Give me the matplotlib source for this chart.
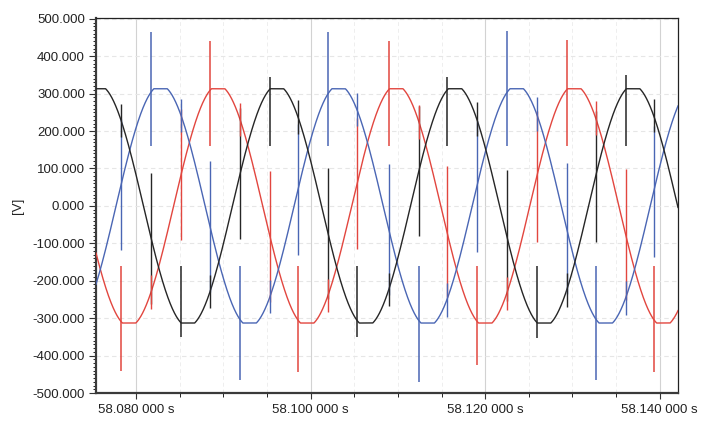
import numpy as np
import matplotlib
matplotlib.use("Agg")
import matplotlib.pyplot as plt
from matplotlib.ticker import MultipleLocator, FuncFormatter

plt.rcParams["font.family"] = "Liberation Sans"

# ── values ───────────────────────────────────────────────────────────────────
phase_names  = ["L1", "L2", "L3"]
phase_colors = ["#e2463f", "#4a66b4", "#262626"]       # red, blue, black
peak_times   = [58.08940, 58.08280, 58.09614]          # time of a positive crest
amplitude    = 322.0                                   # V
flat_level   = 313.0                                   # crests look clipped here
freq_hz      = 49.0

# commutation instants and the phase that shows the large spike
event_times = [58.07828, 58.08172, 58.08515, 58.08847, 58.09191, 58.09534,
               58.09855, 58.10198, 58.10530, 58.10896, 58.11240, 58.11560,
               58.11904, 58.12247, 58.12591, 58.12934, 58.13266, 58.13610,
               58.13930]
event_phase = [0, 1, 2, 0, 1, 2, 0, 1, 2, 0, 1, 2, 0, 1, 2, 0, 1, 2, 0]
event_tip   = [-440, 465, -350, 440, -465, 345, -445, 465, -350, 440,
               -470, 345, -425, 466, -353, 444, -465, 350, -445]
spike_root  = 160.0      # spiking phase drops back to about this level
mid_reach   = 175.0      # neighbouring phase jumps about this much
notch_reach = 45.0       # third phase only shows a small notch

x_range = (58.0754, 58.1421)
y_range = (-500, 502)


def phase_voltage(i, t):
    v = amplitude * np.cos(2 * np.pi * freq_hz * (np.asarray(t) - peak_times[i]))
    return np.clip(v, -flat_level, flat_level)


fig = plt.figure(figsize=(7.07, 4.21), dpi=100)
ax = fig.add_axes([0.1358, 0.0665, 0.8232, 0.8907])

t = np.linspace(x_range[0], x_range[1], 4000)
for i in range(3):
    ax.plot(t, phase_voltage(i, t), color=phase_colors[i], lw=1.0, zorder=3)

# spikes / notches at each commutation
for te, ph, tip in zip(event_times, event_phase, event_tip):
    s = np.sign(tip)
    ax.vlines(te, min(s * spike_root, tip), max(s * spike_root, tip),
              color=phase_colors[ph], lw=1.1, zorder=4)
    mid = (ph + 1) % 3
    vm = phase_voltage(mid, te)
    ax.vlines(te, vm - mid_reach, vm + mid_reach,
              color=phase_colors[mid], lw=1.0, zorder=4)
    other = (ph + 2) % 3
    vo = phase_voltage(other, te)
    ax.vlines(te, vo - notch_reach, vo + notch_reach,
              color=phase_colors[other], lw=1.0, zorder=4)

ax.set_xlim(*x_range)
ax.set_ylim(*y_range)

# ── axes styling ─────────────────────────────────────────────────────────────
ax.xaxis.set_major_locator(MultipleLocator(0.02))
ax.xaxis.set_minor_locator(MultipleLocator(0.005))
ax.yaxis.set_major_locator(MultipleLocator(100))
ax.yaxis.set_minor_locator(MultipleLocator(10))
ax.xaxis.set_major_formatter(FuncFormatter(
    lambda v, p: f"{v:.3f} {int(round(v * 1e6)) % 1000:03d} s"))
ax.yaxis.set_major_formatter(FuncFormatter(lambda v, p: f"{v:.3f}"))

ax.tick_params(axis="both", labelsize=9.5, colors="#333333", labelcolor="#222222")
ax.tick_params(axis="y", which="major", length=5, width=0.8, pad=3)
ax.tick_params(axis="y", which="minor", length=2.5, width=0.6)
ax.tick_params(axis="x", which="major", length=4, width=0.8, pad=4)
ax.tick_params(axis="x", which="minor", length=3, width=0.6)

ax.grid(True, which="major", axis="x", color="#d2d2d2", lw=0.8, zorder=0)
ax.grid(True, which="major", axis="y", color="#e6e6e6", lw=0.8, ls=(0, (4, 3)), zorder=0)
ax.grid(True, which="minor", axis="x", color="#eeeeee", lw=0.7, ls=(0, (4, 3)), zorder=0)

for side in ("top", "right"):
    ax.spines[side].set_color("#222222")
    ax.spines[side].set_linewidth(0.9)
for side in ("left", "bottom"):
    ax.spines[side].set_color("#3a3a3a")
    ax.spines[side].set_linewidth(1.6)

fig.text(0.026, 0.51, "[V]", rotation=90, ha="center", va="center",
         fontsize=9.5, color="#222222")

fig.savefig("out.png", dpi=100)
